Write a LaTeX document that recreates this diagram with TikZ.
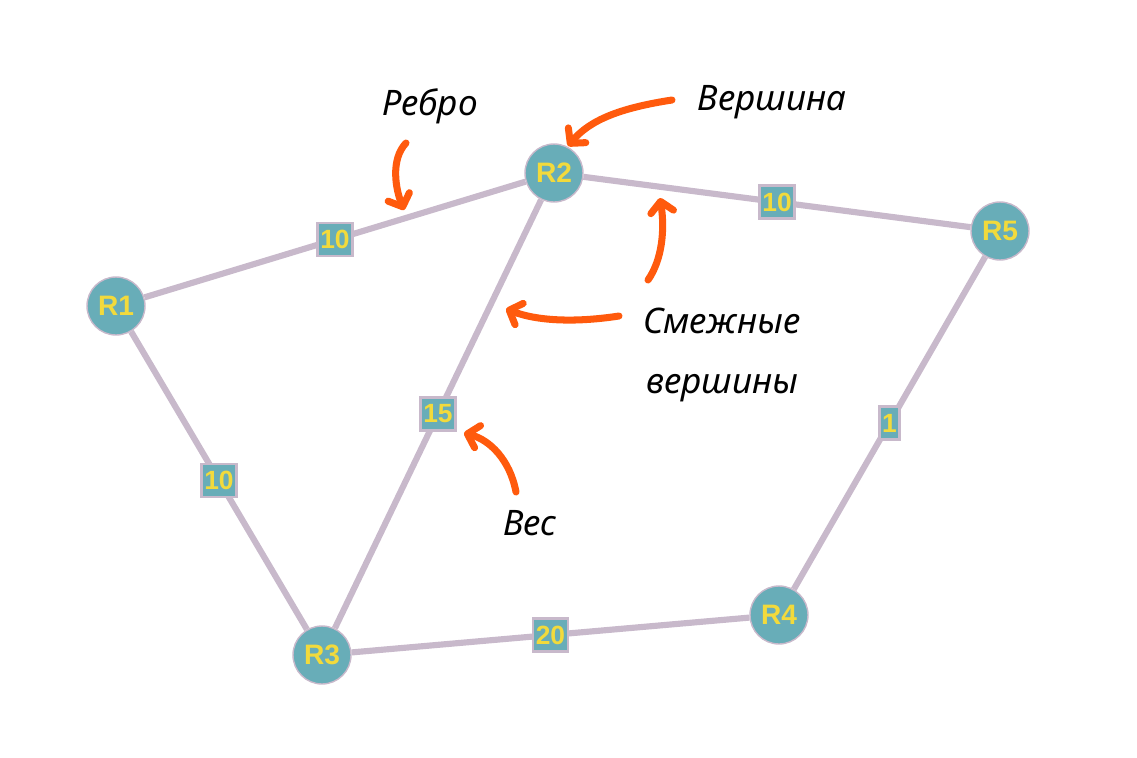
\documentclass[tikz,border=0pt]{standalone}
\usepackage{fontspec}
\setmainfont{Liberation Sans}
\newfontfamily\notefont{Noto Sans}
\usetikzlibrary{arrows.meta}
\definecolor{grTeal}{HTML}{68ADB8}
\definecolor{grEdge}{HTML}{C8B9CB}
\definecolor{grYellow}{HTML}{F2DA3C}
\definecolor{grOrange}{HTML}{FF5A0D}

\begin{document}
\begin{tikzpicture}[
    x=0.02cm,y=-0.02cm,
    router/.style={circle,draw=grEdge,line width=0.8pt,fill=grTeal,minimum size=33pt,
                   inner sep=0pt,text=grYellow,font=\fontsize{16}{16}\selectfont\bfseries},
    edge/.style={draw=grEdge,line width=3.5pt},
    weight/.style={draw=grEdge,line width=1.4pt,fill=grTeal,minimum height=19pt,minimum width=11pt,
                   inner xsep=1.6pt,inner ysep=1pt,text=grYellow,font=\fontsize{15}{15}\selectfont\bfseries},
    note/.style={font=\notefont\itshape\fontsize{20}{34}\selectfont,align=center},
    ptr/.style={draw=grOrange,line width=4pt,line cap=round,
                -{Straight Barb[length=6pt,width=13pt,round]}}
  ]
    \useasboundingbox (0,0) rectangle (1137,758);

    % routers
    \node[router] (r1) at (116,306) {R1};
    \node[router] (r2) at (554,173) {R2};
    \node[router] (r5) at (1000,231) {R5};
    \node[router] (r3) at (322,655) {R3};
    \node[router] (r4) at (779,615) {R4};

    % links with weights
    \draw[edge] (r1) -- node[weight] {10} (r2);
    \draw[edge] (r2) -- node[weight] {10} (r5);
    \draw[edge] (r1) -- node[weight] {10} (r3);
    \draw[edge] (r2) -- node[weight] {15} (r3);
    \draw[edge] (r3) -- node[weight] {20} (r4);
    \draw[edge] (r4) -- node[weight] {1}  (r5);

    % notes
    \node[note] (tEdge)   at (430,106) {Ребро};
    \node[note] (tVertex) at (772,102) {Вершина};
    \node[note] (tAdj)    at (722,355) {Смежные\\вершины};
    \node[note] (tWeight) at (530,523) {Вес};

    \coordinate (eS) at (406,143);  \coordinate (eE) at (404,210);
    \coordinate (vS) at (672,100);  \coordinate (vE) at (568,146);
    \coordinate (aS) at (619,316);  \coordinate (aE) at (506,309);
    \coordinate (bS) at (648,280);  \coordinate (bE) at (660,198);
    \coordinate (wS) at (516,492);  \coordinate (wE) at (464,433);

    \draw[ptr] (eS) .. controls (390,160) and (396,190) .. (eE);
    \draw[ptr] (vS) .. controls (620,108) and (590,120) .. (vE);
    \draw[ptr] (aS) .. controls (580,322) and (540,322) .. (aE);
    \draw[ptr] (bS) .. controls (662,260) and (665,230) .. (bE);
    \draw[ptr] (wS) .. controls (510,460) and (490,440) .. (wE);
\end{tikzpicture}
\end{document}
